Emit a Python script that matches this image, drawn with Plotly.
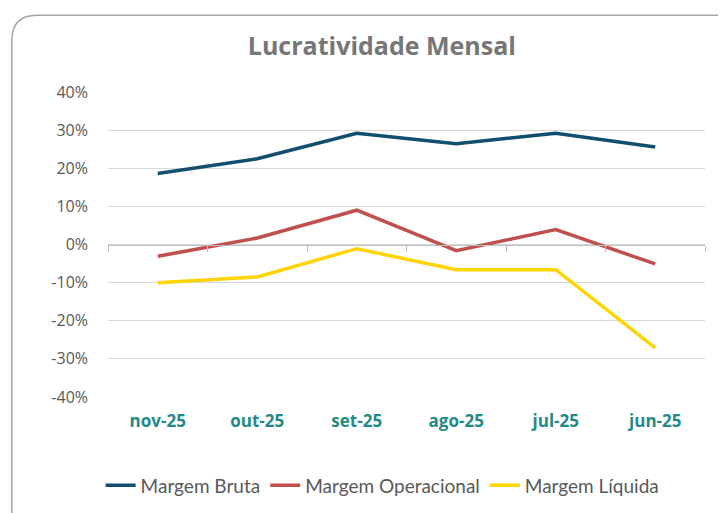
import plotly.graph_objects as go

months = ["nov-25", "out-25", "set-25", "ago-25", "jul-25", "jun-25"]
margem_bruta = [0.186, 0.225, 0.292, 0.264, 0.292, 0.256]
margem_operacional = [-0.031, 0.017, 0.090, -0.016, 0.039, -0.051]
margem_liquida = [-0.100, -0.085, -0.011, -0.066, -0.066, -0.271]
y_ticks = [0.4, 0.3, 0.2, 0.1, 0.0, -0.1, -0.2, -0.3, -0.4]
y_labels = ["40%", "30%", "20%", "10%", "0%", "-10%", "-20%", "-30%", "-40%"]

series = [
    ("Margem Bruta", margem_bruta, "#124F6E"),
    ("Margem Operacional", margem_operacional, "#C0504D"),
    ("Margem Líquida", margem_liquida, "#FFD400"),
]

fig = go.Figure()

for name, values, color in series:
    fig.add_trace(
        go.Scatter(
            x=months,
            y=values,
            mode="lines",
            name=name,
            line=dict(color=color, width=3.5),
            hovertemplate="%{y:.1%}<extra>" + name + "</extra>",
        )
    )

# helper trace so the zero-crossing category axis gets its tick marks
fig.add_trace(
    go.Scatter(
        x=months,
        y=[0] * len(months),
        xaxis="x2",
        mode="lines",
        line=dict(width=0),
        showlegend=False,
        hoverinfo="skip",
    )
)

# rounded chart-area border (Excel style), partly cut by the window
fig.add_shape(
    type="path",
    xref="paper",
    yref="paper",
    path="M -0.161 -0.5 L -0.161 1.17 Q -0.161 1.252 -0.119 1.252 L 1.2 1.252",
    line=dict(color="#A6A6A6", width=1.5),
    layer="below",
)

# page body has an 8px margin, so the margins are shifted to compensate
fig.update_layout(
    width=726,
    height=513,
    paper_bgcolor="white",
    plot_bgcolor="white",
    margin=dict(l=100, r=29, t=84, b=124),
    font=dict(family="Lato, 'Open Sans', sans-serif", color="#595959"),
    title=dict(
        text="<b>Lucratividade Mensal</b>",
        x=0.515,
        xanchor="center",
        y=0.925,
        yanchor="middle",
        font=dict(size=25, color="#767676", family="'Open Sans', sans-serif"),
    ),
    xaxis=dict(
        type="category",
        categoryarray=months,
        range=[-0.5, 5.5],
        showgrid=False,
        showline=False,
        zeroline=False,
        ticks="",
        tickfont=dict(size=17, color="#238A87", family="'Open Sans', sans-serif"),
        ticklabelstandoff=12,
        tickprefix="<b>",
        ticksuffix="</b>",
    ),
    xaxis2=dict(
        type="category",
        categoryarray=months,
        range=[-0.5, 5.5],
        overlaying="x",
        anchor="free",
        position=0.5,
        side="bottom",
        showgrid=False,
        zeroline=False,
        showline=True,
        linecolor="#BFBFBF",
        linewidth=1,
        ticks="outside",
        tickson="boundaries",
        ticklen=6,
        tickcolor="#BFBFBF",
        showticklabels=False,
    ),
    yaxis=dict(
        range=[-0.4, 0.4],
        tickvals=y_ticks,
        ticktext=y_labels,
        showgrid=True,
        gridcolor="#D9D9D9",
        gridwidth=1,
        zeroline=False,
        showline=False,
        ticks="",
        tickfont=dict(size=16, color="#595959", family="'Open Sans', sans-serif"),
        ticklabelstandoff=19,
    ),
    legend=dict(
        orientation="h",
        x=0.46,
        xanchor="center",
        y=-0.29,
        yanchor="middle",
        font=dict(size=19, color="#595959"),
        itemwidth=30,
        bgcolor="rgba(0,0,0,0)",
    ),
    showlegend=True,
    hovermode="x unified",
)

fig.write_html("out.html")
